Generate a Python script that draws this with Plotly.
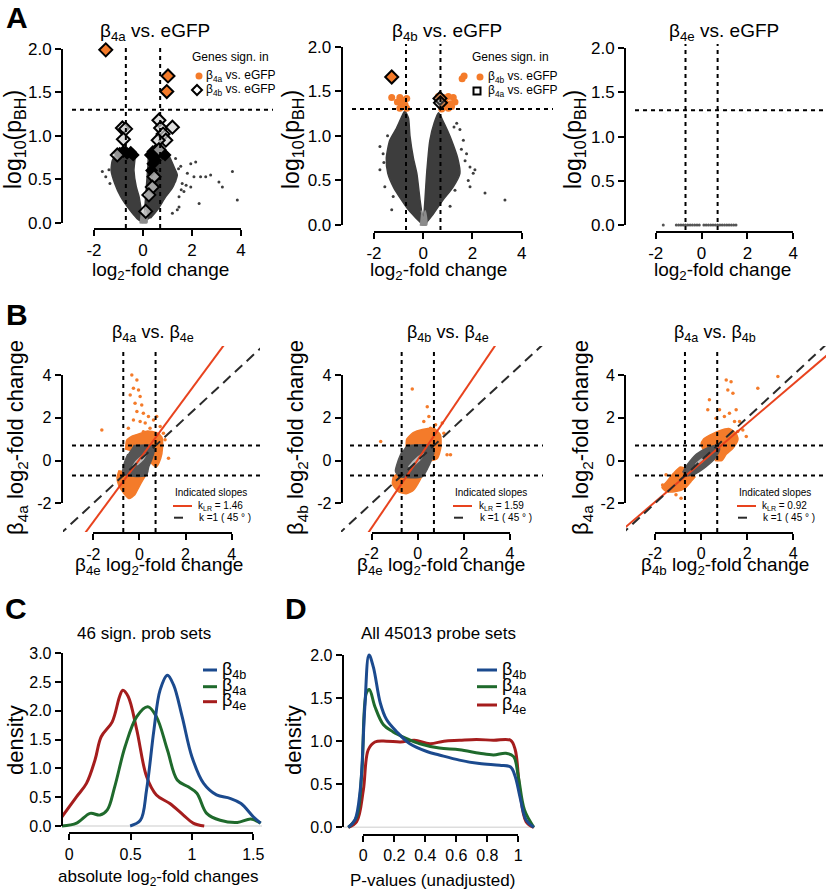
import plotly.graph_objects as go

W, H = 826, 892
FONT = "Liberation Sans, Arial, sans-serif"

# ------------------------------------------------------------------ data
fold_cut = [-0.7, 0.7]      # log2 fold-change thresholds
p_cut = 1.3                 # -log10(0.05)

# ---- Panel A1: beta4a vs eGFP (volcano) ----
a1_left_x = [0.0, -0.25, -0.55, -0.91, -1.15, -1.3, -1.25, -1.05, -0.8, -0.5, -0.33, -0.37, -0.28, -0.16, -0.06]
a1_left_y = [0.0, 0.05, 0.15, 0.3, 0.45, 0.6, 0.72, 0.8, 0.84, 0.84, 0.8, 0.6, 0.42, 0.3, 0.12]
a1_right_x = [0.02, 0.06, 0.11, 0.16, 0.2, 0.24, 0.4, 0.7, 0.95, 1.1, 1.3, 1.4, 1.2, 0.93, 0.6, 0.3]
a1_right_y = [0.0, 0.12, 0.3, 0.5, 0.65, 0.8, 0.85, 0.85, 0.82, 0.75, 0.62, 0.55, 0.4, 0.3, 0.15, 0.05]
a1_tip_x = [-0.14, 0.16, 0.1, 0.0, -0.08]
a1_tip_y = [0.0, 0.0, 0.14, 0.06, 0.14]
a1_pts_x = [1.33, 1.54, 1.95, 2.15, 1.81, 2.08, 2.35, 2.76, 3.10, 1.60, 1.95, 2.29, 1.47, 1.67, 1.40,
            -1.52, -1.39, -1.66, 2.56, 3.24, 3.65, 3.85, 1.47, 1.20, 1.76, 1.56, -1.35, -1.2, 1.45, 1.3]
a1_pts_y = [0.74, 0.65, 0.68, 0.70, 0.57, 0.53, 0.53, 0.55, 0.47, 0.45, 0.41, 0.22, 0.30, 0.36, 0.15,
            0.53, 0.61, 0.59, 0.53, 0.41, 0.59, 0.26, 0.18, 0.11, 0.43, 0.38, 0.45, 0.7, 0.62, 0.48]
a1_both_x = [-1.52, 1.02, 0.97]
a1_both_y = [1.99, 1.69, 1.51]
a1_open_x = [-0.84, -0.71, -0.80, -1.05, 0.65, 0.72, 0.82, 1.20, 0.93, 0.62, 0.65, 0.45, 0.38, 0.24, 0.11]
a1_open_y = [1.09, 1.08, 0.96, 0.78, 1.18, 1.09, 1.02, 1.10, 0.95, 0.95, 0.84, 0.53, 0.41, 0.32, 0.13]
a1_dense_x = [-0.95, -0.8, -0.65, -0.5, -0.4, 0.3, 0.4, 0.5, 0.6, 0.7, 0.8, 0.9, 0.5, 0.4, 0.35]
a1_dense_y = [0.8, 0.82, 0.8, 0.81, 0.78, 0.78, 0.82, 0.83, 0.8, 0.82, 0.8, 0.78, 0.72, 0.68, 0.6]

# ---- Panel A2: beta4b vs eGFP ----
a2_left_x = [0.0, -0.3, -0.6, -0.88, -1.2, -1.44, -1.5, -1.36, -1.1, -0.9, -0.75, -0.6, -0.54, -0.4, -0.26, -0.13, -0.03]
a2_left_y = [0.0, 0.08, 0.17, 0.28, 0.42, 0.58, 0.75, 0.95, 1.08, 1.2, 1.28, 1.2, 1.0, 0.75, 0.58, 0.28, 0.08]
a2_right_x = [0.0, 0.07, 0.14, 0.27, 0.45, 0.62, 0.78, 1.0, 1.15, 1.4, 1.49, 1.2, 0.8, 0.4, 0.05]
a2_right_y = [0.0, 0.28, 0.58, 0.95, 1.15, 1.26, 1.18, 1.05, 0.95, 0.75, 0.58, 0.42, 0.28, 0.12, 0.0]
a2_tip_x = [-0.14, 0.14, 0.08, 0.0, -0.08]
a2_tip_y = [0.0, 0.0, 0.16, 0.06, 0.16]
a2_pts_x = [-1.76, -1.63, 1.36, 1.49, 1.63, 1.76, 1.90, 2.10, 2.03, 1.83, 1.90, 2.51, 3.32, -1.56, -1.28,
            -1.76, -1.22, 1.09, 1.29, -1.6, -1.45, 1.55, 1.7, 1.25]
a2_pts_y = [0.88, 0.80, 1.14, 1.07, 0.95, 0.80, 0.65, 0.62, 0.58, 0.50, 0.43, 0.36, 0.28, 0.43, 0.17,
            0.62, 0.32, 0.21, 0.39, 0.7, 1.0, 0.85, 0.72, 1.1]
a2_sig_x = [-1.28, -0.95, -0.81, -0.67, -0.88, -0.74, -0.95, -0.67, -0.81, -1.05,
            0.61, 0.81, 1.02, 1.22, 0.88, 1.09, 0.81, 1.02, 0.75, 1.29, 1.15, 0.95, 1.58, 1.66]
a2_sig_y = [1.43, 1.43, 1.40, 1.42, 1.35, 1.35, 1.31, 1.31, 1.37, 1.38,
            1.44, 1.43, 1.44, 1.43, 1.38, 1.36, 1.33, 1.31, 1.30, 1.38, 1.33, 1.35, 1.64, 1.67]
a2_both_x = [-1.28]
a2_both_y = [1.66]
a2_open_x = [0.68, 0.70]
a2_open_y = [1.42, 1.37]

# ---- Panel A3: beta4e vs eGFP ----
a3_x = [-1.67, -1.1, -1.0, -0.9, -0.8, -0.7, -0.6, -0.5, -0.4, -0.3, -0.2, -0.1, 0.1, 0.2,
        0.3, 0.4, 0.5, 0.6, 0.7, 0.8, 0.9, 1.0, 1.1, 1.2, 1.3, 1.4, 1.5]
a3_y = [0.0, 0.0, 0.0, 0.0, 0.0, 0.0, 0.0, 0.0, 0.0, 0.0, 0.0, 0.0, 0.0, 0.0,
        0.0, 0.0, 0.0, 0.0, 0.0, 0.0, 0.0, 0.0, 0.0, 0.0, 0.0, 0.0, 0.0]

# ---- Panel B: fold-change scatter comparisons ----
slopes = [1.46, 1.59, 0.92]
intercepts = [0.05, 0.04, -0.1]

b1_gray_x = [-0.26, 0.55, 0.65, 0.55, 0.4, 0.3, -0.55, -0.72, -0.65, -0.5]
b1_gray_y = [0.7, 0.7, 0.5, 0.1, -0.3, -0.7, -0.7, -0.55, -0.1, 0.3]
b1_light_x = [-0.3, -0.15, 0.1, 0.3, 0.15, -0.1]
b1_light_y = [-0.3, -0.05, 0.2, 0.32, 0.05, -0.2]
b1_top_x = [-0.6, -0.55, -0.3, 0.0, 0.35, 0.75, 0.97, 1.0, 0.92, 0.72, 0.4, -0.3]
b1_top_y = [0.5, 0.95, 1.15, 1.25, 1.38, 1.3, 1.1, 0.6, 0.1, -0.3, 0.0, 0.4]
b1_bot_x = [-0.4, 0.35, 0.15, -0.05, -0.2, -0.45, -0.7, -0.9, -0.97, -0.88]
b1_bot_y = [-0.5, -0.5, -0.9, -1.3, -1.6, -1.78, -1.5, -1.15, -0.8, -0.45]
b1_pts_x = [-0.33, -0.11, -0.26, -0.04, -0.40, 0.03, -0.19, 0.10, 0.17, -0.11, -0.26, 0.03, 0.25,
            0.61, 0.75, 0.90, 1.04, 1.11, 1.26, -1.63, -0.48, 0.39, 0.46, 0.17]
b1_pts_y = [4.0, 3.77, 3.38, 3.30, 3.07, 2.99, 2.68, 2.60, 2.21, 2.29, 1.90, 1.82, 1.75,
            1.90, 2.06, 1.59, 1.28, 0.97, 0.11, 1.43, 1.51, 2.06, 1.51, 1.35]

b2_gray_x = [-0.5, 0.6, 0.7, 0.5, 0.2, -0.8, -0.97, -0.85, -0.7]
b2_gray_y = [0.7, 0.7, 0.4, -0.2, -0.75, -0.75, -0.5, 0.0, 0.4]
b2_light_x = [-0.4, -0.2, 0.05, 0.25, 0.1, -0.2]
b2_light_y = [-0.3, -0.05, 0.2, 0.3, 0.05, -0.25]
b2_top_x = [-0.5, -0.48, -0.2, 0.2, 0.7, 0.98, 1.0, 0.85, 0.6, -0.3]
b2_top_y = [0.5, 1.0, 1.3, 1.45, 1.5, 1.2, 0.6, 0.1, 0.0, 0.4]
b2_bot_x = [-0.8, 0.25, 0.05, -0.2, -0.5, -0.85, -1.1, -1.05]
b2_bot_y = [-0.5, -0.5, -1.0, -1.4, -1.55, -1.45, -1.1, -0.7]
b2_pts_x = [-0.24, 0.41, 0.48, 0.77, -1.61, 1.27, 1.13, 1.06, 0.26, 0.55, 1.42]
b2_pts_y = [3.34, 2.52, 2.06, 1.67, 0.89, 0.27, 1.28, 1.75, 1.82, 1.51, 0.27]

b3_gray_x = [-0.8, -0.6, -0.2, 0.3, 0.75, 0.8, 0.6, 0.2, -0.3, -0.7]
b3_gray_y = [-0.55, -0.2, 0.3, 0.6, 0.72, 0.5, 0.1, -0.3, -0.65, -0.72]
b3_light_x = [-0.25, 0.0, 0.2, 0.05, -0.15]
b3_light_y = [-0.2, 0.05, 0.15, -0.05, -0.2]
b3_top_x = [0.2, 0.0, 0.1, 0.4, 0.8, 1.2, 1.5, 1.6, 1.4, 1.1, 0.9, 0.6]
b3_top_y = [0.3, 0.75, 1.0, 1.2, 1.4, 1.5, 1.3, 1.0, 0.6, 0.3, 0.0, 0.0]
b3_bot_x = [-0.3, -0.6, -0.9, -1.2, -1.5, -1.7, -1.5, -1.1, -0.7, -0.45, -0.25]
b3_bot_y = [-0.4, -0.4, -0.3, -0.6, -1.0, -1.25, -1.45, -1.45, -1.3, -1.0, -0.75]
b3_pts_x = [1.09, 1.38, 2.46, 3.33, 0.36, 0.29, 0.80, 1.23, 1.45, 1.59, 0.65, -1.52, -1.67, -1.09,
            -0.87, 1.96, 1.16, 1.30, 1.01, 1.67, 1.81, 1.52]
b3_pts_y = [3.77, 3.15, 3.38, 3.93, 2.84, 2.37, 2.37, 2.21, 1.82, 1.36, 1.98, -0.67, -1.14, -1.60,
            -1.76, 1.12, 3.30, 3.69, 2.06, 1.82, 1.43, 2.37]

# ---- Panel C: density of |log2 FC| for 46 significant probe sets ----
c_blue_x = [0.496, 0.58, 0.63, 0.69, 0.74, 0.80, 0.85, 0.92, 1.00, 1.095, 1.20, 1.31, 1.40, 1.50, 1.56]
c_blue_y = [0.0, 0.10, 0.63, 1.67, 2.36, 2.62, 2.45, 1.90, 1.20, 0.74, 0.54, 0.48, 0.39, 0.16, 0.05]
c_green_x = [-0.06, 0.06, 0.17, 0.25, 0.31, 0.37, 0.455, 0.55, 0.64, 0.71, 0.80, 0.88, 0.97, 1.04, 1.12,
             1.23, 1.37, 1.48, 1.56]
c_green_y = [0.0, 0.05, 0.22, 0.19, 0.28, 0.68, 1.38, 1.90, 2.07, 1.90, 1.32, 0.80, 0.68, 0.57, 0.22,
             0.10, 0.06, 0.12, 0.05]
c_red_x = [-0.06, 0.06, 0.14, 0.21, 0.26, 0.35, 0.41, 0.436, 0.48, 0.55, 0.63, 0.71, 0.82, 0.93, 1.01, 1.10]
c_red_y = [0.16, 0.51, 0.74, 1.15, 1.55, 1.81, 2.25, 2.36, 2.25, 1.67, 0.86, 0.54, 0.39, 0.19, 0.05, 0.0]

# ---- Panel D: density of unadjusted p-values ----
d_blue_x = [-0.097, -0.054, -0.02, 0.01, 0.037, 0.065, 0.11, 0.15, 0.215, 0.30, 0.41, 0.49, 0.62, 0.75,
            0.88, 0.95, 0.98, 1.01, 1.05, 1.10]
d_blue_y = [0.0, 0.085, 0.43, 1.40, 2.0, 1.86, 1.44, 1.25, 1.11, 0.97, 0.88, 0.84, 0.78, 0.74,
            0.72, 0.70, 0.59, 0.36, 0.085, 0.0]
d_green_x = [-0.097, -0.043, -0.01, 0.02, 0.039, 0.075, 0.13, 0.19, 0.28, 0.365, 0.49, 0.62, 0.75, 0.84,
             0.92, 0.97, 1.00, 1.04, 1.10]
d_green_y = [0.0, 0.12, 0.63, 1.56, 1.60, 1.40, 1.19, 1.11, 1.03, 0.97, 0.92, 0.90, 0.86, 0.84,
             0.86, 0.82, 0.59, 0.20, 0.0]
d_red_x = [-0.097, -0.043, 0.0, 0.032, 0.075, 0.15, 0.24, 0.33, 0.43, 0.52, 0.62, 0.73, 0.84, 0.95,
           0.98, 1.01, 1.05, 1.10]
d_red_y = [0.0, 0.066, 0.43, 0.90, 0.99, 1.0, 0.99, 1.01, 0.97, 1.0, 1.01, 1.02, 1.01, 1.01,
           0.90, 0.43, 0.066, 0.0]

# tick values / labels
a_xticks = [-2, 0, 2, 4]
a_xlabels = ["-2", "0", "2", "4"]
a_yticks = [0.0, 0.5, 1.0, 1.5, 2.0]
a_ylabels = ["0.0", "0.5", "1.0", "1.5", "2.0"]
b_ticks = [-2, 0, 2, 4]
b_labels = ["-2", "0", "2", "4"]
c_xticks = [0, 0.5, 1, 1.5]
c_xlabels = ["0", "0.5", "1", "1.5"]
c_yticks = [0.0, 0.5, 1.0, 1.5, 2.0, 2.5, 3.0]
c_ylabels = ["0.0", "0.5", "1.0", "1.5", "2.0", "2.5", "3.0"]
d_xticks = [0, 0.2, 0.4, 0.6, 0.8, 1]
d_xlabels = ["0", "0.2", "0.4", "0.6", "0.8", "1"]
d_yticks = [0.0, 0.5, 1.0, 1.5, 2.0]
d_ylabels = ["0.0", "0.5", "1.0", "1.5", "2.0"]

# colours
ORANGE = "#f47b2a"
REDLINE = "#e8431e"
DARK = "#3d3d3d"
TIP = "#8c8c8c"
BGRAY = "#555555"
LIGHT = "#bdbdbd"
C_BLUE = "#1b4a8e"
C_GREEN = "#1f6a2c"
C_RED = "#a51d1d"

# ------------------------------------------------------------------ helpers
fig = go.Figure()
shapes = []
annotations = []


def akey(p, n):
    return p + ("axis" if n == 1 else "axis%d" % n)


def aref(p, n):
    return p if n == 1 else "%s%d" % (p, n)


def make_panel(n, box, xmap, ymap, xline, yline, xt, xl, yt, yl, tfs):
    x0, x1, y0, y1 = box
    (xv1, xp1), (xv2, xp2) = xmap
    sx = (xp2 - xp1) / (xv2 - xv1)
    xr = [xv1 + (x0 - xp1) / sx, xv1 + (x1 - xp1) / sx]
    (yv1, yp1), (yv2, yp2) = ymap
    sy = (yp2 - yp1) / (yv2 - yv1)
    yr = [yv1 + (y1 - yp1) / sy, yv1 + (y0 - yp1) / sy]
    lay = {}
    lay[akey("x", n)] = dict(domain=[x0 / W, x1 / W], range=xr, visible=False, automargin=False,
                             anchor=aref("y", n), fixedrange=True)
    lay[akey("y", n)] = dict(domain=[1 - y1 / H, 1 - y0 / H], range=yr, visible=False, automargin=False,
                             anchor=aref("x", n), fixedrange=True)
    m = n + 8
    tx0 = xp1 + (xt[0] - xv1) * sx
    tx1 = xp1 + (xt[-1] - xv1) * sx
    ty0 = yp1 + (yt[0] - yv1) * sy
    ty1 = yp1 + (yt[-1] - yv1) * sy
    style = dict(showline=True, linecolor="black", linewidth=2, ticks="outside", ticklen=6,
                 tickwidth=2, tickcolor="black", showgrid=False, zeroline=False, automargin=False,
                 tickfont=dict(size=tfs, family=FONT, color="black"), fixedrange=True)
    lay[akey("x", m)] = dict(domain=[tx0 / W, tx1 / W], range=[xt[0], xt[-1]], anchor="free",
                             position=1 - xline / H, tickvals=xt, ticktext=xl, **style)
    lay[akey("y", m)] = dict(domain=[1 - ty0 / H, 1 - ty1 / H], range=[yt[0], yt[-1]], anchor="free",
                             position=yline / W, tickvals=yt, ticktext=yl, **style)
    fig.add_trace(go.Scatter(x=[None], y=[None], xaxis=aref("x", m), yaxis=aref("y", m),
                             showlegend=False, hoverinfo="skip"))
    fig.update_layout(**lay)
    return aref("x", n), aref("y", n), box


def poly(ax, xs, ys, color):
    fig.add_trace(go.Scatter(x=xs, y=ys, xaxis=ax[0], yaxis=ax[1], mode="lines", fill="toself",
                             fillcolor=color, line=dict(color=color, width=1.5, shape="spline", smoothing=0.6),
                             showlegend=False, hoverinfo="skip"))


def pts(ax, xs, ys, color, size, symbol="circle", lcolor=None, lw=0):
    fig.add_trace(go.Scatter(x=xs, y=ys, xaxis=ax[0], yaxis=ax[1], mode="markers",
                             marker=dict(color=color, size=size, symbol=symbol,
                                         line=dict(color=lcolor or color, width=lw)),
                             showlegend=False, hoverinfo="skip", cliponaxis=False))


def curve(ax, xs, ys, color, width=3, dash=None, spline=True):
    fig.add_trace(go.Scatter(x=xs, y=ys, xaxis=ax[0], yaxis=ax[1], mode="lines",
                             line=dict(color=color, width=width, dash=dash,
                                       shape="spline" if spline else "linear"),
                             showlegend=False, hoverinfo="skip"))


DOT = "4px,4px"


def vdash(ax, v, y0=0, y1=1):
    shapes.append(dict(type="line", xref=ax[0], yref=ax[1] + " domain", x0=v, x1=v, y0=y0, y1=y1,
                       line=dict(color="black", width=2, dash=DOT)))


def hdash(ax, v, x0=0, x1=1):
    shapes.append(dict(type="line", xref=ax[0] + " domain", yref=ax[1], x0=x0, x1=x1, y0=v, y1=v,
                       line=dict(color="black", width=2, dash=DOT)))


def txt(s, x, y, size, xanchor="center", angle=0, color="black"):
    annotations.append(dict(text=s, x=x / W, y=1 - y / H, xref="paper", yref="paper", showarrow=False,
                            xanchor=xanchor, yanchor="middle", textangle=angle,
                            font=dict(size=size, color=color, family=FONT)))


def pline(x0, y0, x1, y1, color, width, dash=None):
    shapes.append(dict(type="line", xref="paper", yref="paper", x0=x0 / W, x1=x1 / W,
                       y0=1 - y0 / H, y1=1 - y1 / H, line=dict(color=color, width=width, dash=dash)))


def pcircle(cx, cy, r, color):
    shapes.append(dict(type="circle", xref="paper", yref="paper", x0=(cx - r) / W, x1=(cx + r) / W,
                       y0=1 - (cy + r) / H, y1=1 - (cy - r) / H, fillcolor=color,
                       line=dict(color=color, width=0)))


def pdiamond(cx, cy, r, lw):
    path = "M %f %f L %f %f L %f %f L %f %f Z" % (
        (cx - r) / W, 1 - cy / H, cx / W, 1 - (cy - r) / H, (cx + r) / W, 1 - cy / H, cx / W, 1 - (cy + r) / H)
    shapes.append(dict(type="path", xref="paper", yref="paper", path=path,
                       fillcolor="white", line=dict(color="black", width=lw)))


def psquare(cx, cy, r, lw):
    shapes.append(dict(type="rect", xref="paper", yref="paper", x0=(cx - r) / W, x1=(cx + r) / W,
                       y0=1 - (cy + r) / H, y1=1 - (cy - r) / H, fillcolor="white",
                       line=dict(color="black", width=lw)))


# ------------------------------------------------------------------ panels
A1 = make_panel(1, (72, 273, 45, 228), ((-2, 94), (4, 241)), ((0, 222.7), (2, 49)), 229, 62,
                a_xticks, a_xlabels, a_yticks, a_ylabels, 17)
A2 = make_panel(2, (352, 553, 44, 230), ((-2, 374), (4, 521.7)), ((0, 225), (2, 46.7)), 231.7, 341.7,
                a_xticks, a_xlabels, a_yticks, a_ylabels, 17)
A3 = make_panel(3, (635, 826, 44, 230), ((-2, 655.7), (4, 793.3)), ((0, 225), (2, 48.3)), 231.7, 625,
                a_xticks, a_xlabels, a_yticks, a_ylabels, 17)
B1 = make_panel(4, (63, 260, 346, 532), ((-2, 93.3), (4, 231.7)), ((-2, 503.3), (4, 375)), 533.3, 61.7,
                b_ticks, b_labels, b_ticks, b_labels, 16)
B2 = make_panel(5, (341, 543, 346, 532), ((-2, 371.7), (4, 510)), ((-2, 503.3), (4, 375)), 532.7, 341.7,
                b_ticks, b_labels, b_ticks, b_labels, 16)
B3 = make_panel(6, (626, 826, 346, 532), ((-2, 655), (4, 793.3)), ((-2, 503.3), (4, 375)), 532.7, 625,
                b_ticks, b_labels, b_ticks, b_labels, 16)
C = make_panel(7, (61, 262, 648, 828), ((0, 69.3), (1.5, 253.3)), ((0, 826), (3, 653.3)), 833.3, 61.7,
               c_xticks, c_xlabels, c_yticks, c_ylabels, 16)
D = make_panel(8, (343, 535, 648, 829), ((0, 363.3), (1, 518.3)), ((0, 827.3), (2, 655)), 835, 342.7,
               d_xticks, d_xlabels, d_yticks, d_ylabels, 16)

# ---- A1
poly(A1, a1_left_x, a1_left_y, DARK)
poly(A1, a1_right_x, a1_right_y, DARK)
poly(A1, a1_tip_x, a1_tip_y, TIP)
pts(A1, a1_pts_x, a1_pts_y, DARK, 3)
pts(A1, a1_dense_x, a1_dense_y, "black", 10, "diamond")
pts(A1, a1_open_x, a1_open_y, "rgba(210,210,210,0.7)", 10, "diamond", "black", 2)
pts(A1, a1_both_x, a1_both_y, ORANGE, 10, "diamond", "black", 2)
# ---- A2
poly(A2, a2_left_x, a2_left_y, DARK)
poly(A2, a2_right_x, a2_right_y, DARK)
poly(A2, a2_tip_x, a2_tip_y, TIP)
pts(A2, a2_pts_x, a2_pts_y, DARK, 3)
pts(A2, a2_sig_x, a2_sig_y, ORANGE, 7)
pts(A2, a2_open_x, a2_open_y, "rgba(120,120,120,0.4)", 10, "diamond", "black", 2)
pts(A2, a2_both_x, a2_both_y, ORANGE, 10, "diamond", "black", 2)
# ---- A3
pts(A3, a3_x, a3_y, "#555555", 3)

for ax in (A1, A2, A3):
    for v in fold_cut:
        vdash(ax, v)
    hdash(ax, p_cut)

# ---- B panels
b_sets = [
    (B1, b1_top_x, b1_top_y, b1_bot_x, b1_bot_y, b1_gray_x, b1_gray_y, b1_light_x, b1_light_y, b1_pts_x, b1_pts_y),
    (B2, b2_top_x, b2_top_y, b2_bot_x, b2_bot_y, b2_gray_x, b2_gray_y, b2_light_x, b2_light_y, b2_pts_x, b2_pts_y),
    (B3, b3_top_x, b3_top_y, b3_bot_x, b3_bot_y, b3_gray_x, b3_gray_y, b3_light_x, b3_light_y, b3_pts_x, b3_pts_y),
]
diag_x = [-4, 6]
for i, (ax, tx, ty, bx, by, gx, gy, lx, ly, px, py) in enumerate(b_sets):
    poly(ax, tx, ty, ORANGE)
    poly(ax, bx, by, ORANGE)
    poly(ax, gx, gy, BGRAY)
    poly(ax, lx, ly, LIGHT)
    pts(ax, px, py, ORANGE, 3.5)
    curve(ax, diag_x, [slopes[i] * v + intercepts[i] for v in diag_x], REDLINE, 2, spline=False)
    curve(ax, diag_x, diag_x, "#2a2a2a", 2, dash="10px,6px", spline=False)
    bw = ax[2][1] - ax[2][0]
    for v in fold_cut:
        vdash(ax, v, 0, 0.97)
        hdash(ax, v, 9.0 / bw, 1)

# ---- C and D
for ax in (C, D):
    shapes.append(dict(type="line", xref=ax[0] + " domain", yref=ax[1], x0=0, x1=1, y0=0, y1=0,
                       line=dict(color="#dddddd", width=1.5), layer="below"))
curve(C, c_red_x, c_red_y, C_RED)
curve(C, c_green_x, c_green_y, C_GREEN)
curve(C, c_blue_x, c_blue_y, C_BLUE)
curve(D, d_red_x, d_red_y, C_RED)
curve(D, d_green_x, d_green_y, C_GREEN)
curve(D, d_blue_x, d_blue_y, C_BLUE)

# ------------------------------------------------------------------ text
for s, x, y in [("A", 17, 17), ("B", 17, 314), ("C", 16, 608), ("D", 296, 608)]:
    txt("<b>%s</b>" % s, x, y, 30)

b4a = "β<sub>4a</sub>"
b4b = "β<sub>4b</sub>"
b4e = "β<sub>4e</sub>"
lfc = "log<sub>2</sub>-fold change"
ylog = "log<sub>10</sub>(p<sub>BH</sub>)"

# A titles / axis titles
for t, cx, yx, xx in [(b4a + " vs. eGFP", 155, 14, 160), (b4b + " vs. eGFP", 447, 292, 438),
                      (b4e + " vs. eGFP", 724, 574, 722)]:
    txt(t, cx, 32, 19)
    txt(ylog, yx, 140, 23, angle=-90)
    txt(lfc, xx, 271, 19)

# A legends
txt("Genes sign. in", 190, 57, 12, "left")
pcircle(199, 76, 3.5, ORANGE)
txt(b4a + " vs. eGFP", 204, 76, 12, "left")
pdiamond(197, 90, 5, 2)
txt(b4b + " vs. eGFP", 204, 90, 12, "left")

txt("Genes sign. in", 470, 57, 12, "left")
pcircle(480, 77, 3.5, ORANGE)
txt(b4b + " vs. eGFP", 486, 77, 12, "left")
psquare(477, 91, 3.5, 2)
txt(b4a + " vs. eGFP", 486, 91, 12, "left")

# B titles
for t, cx, yt_, yx, xt_, xx in [(b4a + " vs. " + b4e, 153, b4a + " " + lfc, 17, b4e + " " + lfc, 159),
                               (b4b + " vs. " + b4e, 448, b4b + " " + lfc, 297, b4e + " " + lfc, 441),
                               (b4a + " vs. " + b4b, 715, b4a + " " + lfc, 582, b4b + " " + lfc, 725)]:
    txt(t, cx, 333, 18)
    txt(yt_, yx, 438, 22, angle=-90)
    txt(xt_, xx, 566, 19)

# B legends
for i, (lx, tx) in enumerate([(173, 196), (453, 477), (737, 760)]):
    txt("Indicated slopes", lx, 492, 10, "left")
    pline(lx, 506, lx + 19, 506, REDLINE, 2)
    txt("k<sub>LR</sub> = %.2f" % slopes[i], tx, 506, 10, "left")
    pline(lx + 1, 517.7, lx + 10, 517.7, "#2a2a2a", 2)
    txt("k =1 ( 45 ° )", tx + 1, 517.7, 10, "left")

# C / D titles
txt("46 sign. prob sets", 144, 633, 17)
txt("density", 15, 740, 22, angle=-90)
txt("absolute log<sub>2</sub>-fold changes", 158, 878, 17)
txt("All 45013 probe sets", 438, 633, 17)
txt("density", 293, 740, 22, angle=-90)
txt("P-values (unadjusted)", 432, 880, 17)

for (lx0, lx1, tx, ys) in [(203, 217, 220, [670, 686.7, 701.7]), (477, 497, 500, [670, 686.7, 705])]:
    for col, lab, yy in zip([C_BLUE, C_GREEN, C_RED], [b4b, b4a, b4e], ys):
        pline(lx0, yy, lx1, yy, col, 3)
        txt(lab, tx, yy, 18, "left")

fig.update_layout(template="none", width=W, height=H, margin=dict(l=0, r=0, t=0, b=0, pad=0),
                  paper_bgcolor="white", plot_bgcolor="rgba(0,0,0,0)", showlegend=False,
                  shapes=shapes, annotations=annotations, font=dict(family=FONT, color="black"))
fig.write_html("out.html", config={"displayModeBar": False, "staticPlot": True},
               post_script="document.body.style.margin='0';document.body.style.overflow='hidden';")
